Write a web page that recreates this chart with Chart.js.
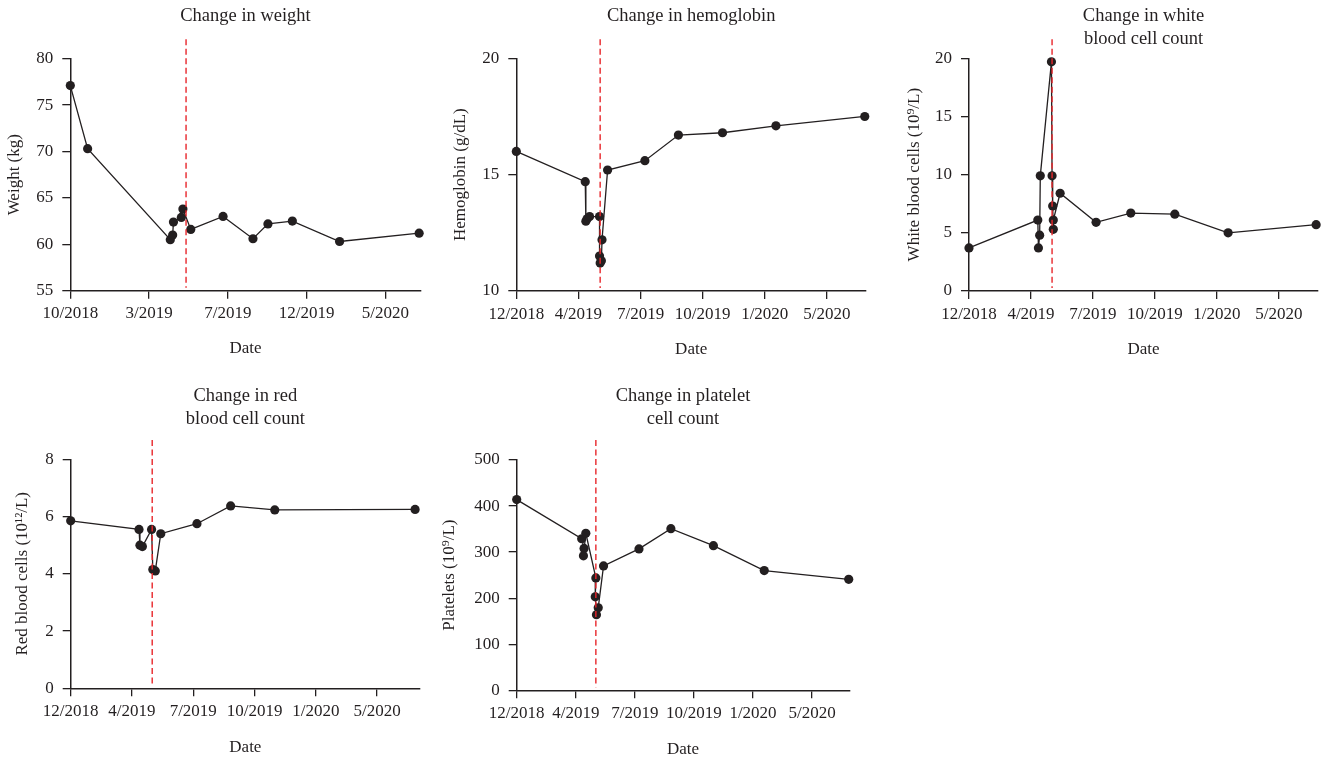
<!DOCTYPE html>
<html lang="en">
<head>
  <meta charset="UTF-8">
  <title>Changes during treatment</title>
  <script src="https://cdn.jsdelivr.net/npm/chart.js"></script>
  <style>
    body { margin: 0; background: #fff; }
    canvas { position: absolute; }
  </style>
</head>
<body>
  <canvas id="weightChart" width="440" height="370" style="left:0;top:0"></canvas>
  <canvas id="hbChart" width="450" height="370" style="left:430px;top:0"></canvas>
  <canvas id="wbcChart" width="445" height="370" style="left:880px;top:0"></canvas>
  <canvas id="rbcChart" width="440" height="385" style="left:0;top:380px"></canvas>
  <canvas id="pltChart" width="450" height="385" style="left:430px;top:380px"></canvas>

  <script>
    // x values are positions along the date axis, in tick steps (0 = first label)
    const weightTicks = ['10/2018', '3/2019', '7/2019', '12/2019', '5/2020'];
    const labTicks = ['12/2018', '4/2019', '7/2019', '10/2019', '1/2020', '5/2020'];

    const weightX = [0, 0.22, 1.27, 1.30, 1.31, 1.41, 1.43, 1.53, 1.94, 2.32, 2.51, 2.82, 3.42, 4.43];
    const weightY = [77.1, 70.3, 60.5, 61.0, 62.4, 62.9, 63.8, 61.6, 63.0, 60.6, 62.2, 62.5, 60.3, 61.2];

    const hbX = [0, 1.11, 1.12, 1.14, 1.18, 1.34, 1.34, 1.35, 1.37, 1.38, 1.47, 2.07, 2.61, 3.32, 4.18, 5.61];
    const hbY = [16.0, 14.7, 13.0, 13.1, 13.2, 13.2, 11.5, 11.2, 11.3, 12.2, 15.2, 15.6, 16.7, 16.8, 17.1, 17.5];

    const wbcX = [0, 1.11, 1.12, 1.14, 1.15, 1.33, 1.34, 1.35, 1.36, 1.36, 1.47, 2.05, 2.61, 3.32, 4.18, 5.60];
    const wbcY = [3.7, 6.1, 3.7, 4.8, 9.9, 19.7, 9.9, 7.3, 5.3, 6.1, 8.4, 5.9, 6.7, 6.6, 5.0, 5.7];

    const rbcX = [0, 1.115, 1.13, 1.17, 1.32, 1.34, 1.38, 1.47, 2.06, 2.61, 3.33, 5.62];
    const rbcY = [5.85, 5.55, 5.0, 4.95, 5.55, 4.15, 4.1, 5.4, 5.75, 6.37, 6.23, 6.25];

    const pltX = [0, 1.10, 1.14, 1.13, 1.17, 1.34, 1.33, 1.35, 1.38, 1.47, 2.07, 2.61, 3.33, 4.19, 5.62];
    const pltY = [414, 329, 308, 292, 341, 244, 203, 164, 179, 270, 307, 351, 314, 260, 241];

    // treatment date (red dashed line)
    const markerX = { weight: 1.47, hb: 1.35, wbc: 1.34, rbc: 1.33, plt: 1.34 };

    const ink = '#231f20';
    Chart.defaults.font.family = "'Liberation Serif', 'Times New Roman', serif";
    Chart.defaults.font.size = 17;
    Chart.defaults.color = ink;

    const markerLine = {
      id: 'markerLine',
      afterDatasetsDraw(chart, args, opts) {
        const { ctx, chartArea, scales } = chart;
        const px = scales.x.getPixelForValue(opts.value);
        ctx.save();
        ctx.strokeStyle = '#e8262b';
        ctx.lineWidth = 1.4;
        ctx.setLineDash([6, 3.5]);
        ctx.beginPath();
        ctx.moveTo(px, chartArea.top - opts.above);
        ctx.lineTo(px, chartArea.bottom - 3);
        ctx.stroke();
        ctx.restore();
      }
    };

    function drawPanel(id, p) {
      return new Chart(document.getElementById(id), {
        type: 'scatter',
        data: {
          datasets: [{
            data: p.x.map((v, i) => ({ x: v, y: p.y[i] })),
            showLine: true,
            clip: false,
            borderColor: ink,
            borderWidth: 1.3,
            pointRadius: 4.6,
            pointBackgroundColor: ink,
            pointBorderWidth: 0
          }]
        },
        options: {
          responsive: false,
          animation: false,
          layout: { padding: { left: 0, right: p.padRight, top: 0, bottom: 0 } },
          plugins: {
            legend: { display: false },
            tooltip: { enabled: false },
            title: {
              display: true,
              text: p.title,
              fullSize: false,
              color: ink,
              font: { size: 18.5, weight: 'normal', lineHeight: '23px' },
              padding: { top: 4.5, bottom: p.titleGap }
            },
            markerLine: { value: p.marker, above: p.markerAbove }
          },
          scales: {
            x: {
              type: 'linear',
              min: 0,
              max: p.xMax,
              afterBuildTicks: s => { s.ticks = p.ticks.map((_, i) => ({ value: i })); },
              afterFit: s => { s.height = p.xHeight; },
              ticks: { callback: v => p.ticks[v], padding: 5, maxRotation: 0, autoSkip: false },
              grid: { drawOnChartArea: false, color: ink, tickLength: 8, lineWidth: 1.3 },
              border: { color: ink, width: 1.5 },
              title: { display: true, text: 'Date', padding: { top: 0, bottom: p.dateGap } }
            },
            y: {
              min: p.yMin,
              max: p.yMax,
              afterFit: s => { s.width = p.yWidth; },
              ticks: { stepSize: p.yStep, padding: 9 },
              grid: { drawOnChartArea: false, color: ink, tickLength: 8, lineWidth: 1.3 },
              border: { color: ink, width: 1.5 },
              title: { display: true, text: p.yTitle, padding: { top: p.yTitleGap, bottom: 0 } }
            }
          }
        },
        plugins: [markerLine]
      });
    }

    drawPanel('weightChart', {
      title: 'Change in weight', yTitle: 'Weight (kg)',
      x: weightX, y: weightY, ticks: weightTicks, xMax: 4.45,
      yMin: 55, yMax: 80, yStep: 5, marker: markerX.weight, markerAbove: 19.5,
      padRight: 19.3, titleGap: 31.2, xHeight: 79.3, dateGap: 10.8, yWidth: 70.3, yTitleGap: 4.8
    });

    drawPanel('hbChart', {
      title: 'Change in hemoglobin', yTitle: 'Hemoglobin (g/dL)',
      x: hbX, y: hbY, ticks: labTicks, xMax: 5.63,
      yMin: 10, yMax: 20, yStep: 5, marker: markerX.hb, markerAbove: 19,
      padRight: 14, titleGap: 30.8, xHeight: 79, dateGap: 10.5, yWidth: 86.3, yTitleGap: 20.5
    });

    drawPanel('wbcChart', {
      title: ['Change in white', 'blood cell count'], yTitle: 'White blood cells (10⁹/L)',
      x: wbcX, y: wbcY, ticks: labTicks, xMax: 5.63,
      yMin: 0, yMax: 20, yStep: 5, marker: markerX.wbc, markerAbove: 19,
      padRight: 7, titleGap: 7.8, xHeight: 79, dateGap: 10.5, yWidth: 89, yTitleGap: 24.8
    });

    drawPanel('rbcChart', {
      title: ['Change in red', 'blood cell count'], yTitle: 'Red blood cells (10¹²/L)',
      x: rbcX, y: rbcY, ticks: labTicks, xMax: 5.70,
      yMin: 0, yMax: 8, yStep: 2, marker: markerX.rbc, markerAbove: 19.3,
      padRight: 20, titleGap: 28.8, xHeight: 76.7, dateGap: 6.8, yWidth: 70.7, yTitleGap: 12.8
    });

    drawPanel('pltChart', {
      title: ['Change in platelet', 'cell count'], yTitle: 'Platelets (10⁹/L)',
      x: pltX, y: pltY, ticks: labTicks, xMax: 5.63,
      yMin: 0, yMax: 500, yStep: 100, marker: markerX.plt, markerAbove: 20,
      padRight: 30.7, titleGap: 29.5, xHeight: 74.7, dateGap: 4.8, yWidth: 86.7, yTitleGap: 9.8
    });
  </script>
</body>
</html>
